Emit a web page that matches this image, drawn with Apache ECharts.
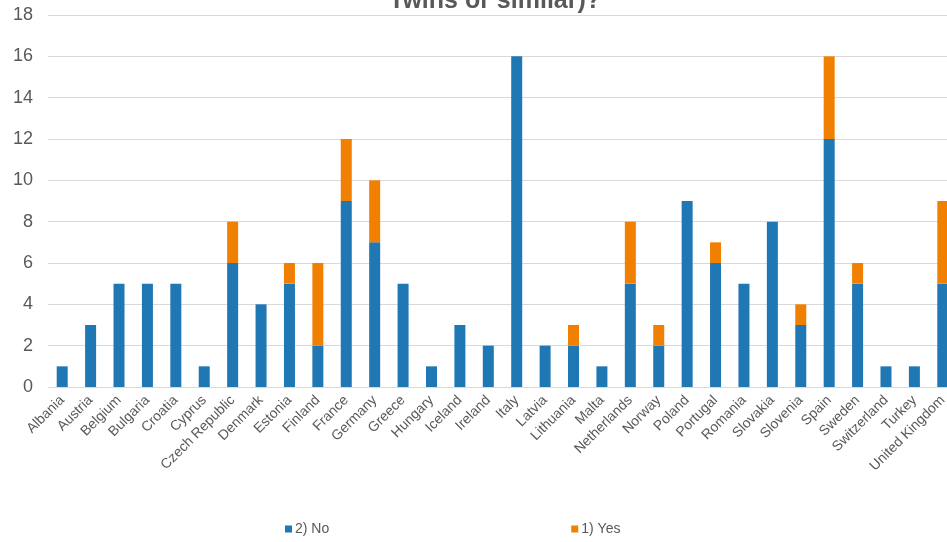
<!DOCTYPE html>
<html>
<head>
<meta charset="utf-8">
<script src="https://cdn.jsdelivr.net/npm/echarts@6/dist/echarts.min.js"></script>
<style>
  html, body { margin: 0; padding: 0; background: #fff; }
  #chart { width: 947px; height: 542px; }
</style>
</head>
<body>
<div id="chart"></div>
<script>
var countries = ['Albania','Austria','Belgium','Bulgaria','Croatia','Cyprus','Czech Republic','Denmark','Estonia','Finland','France','Germany','Greece','Hungary','Iceland','Ireland','Italy','Latvia','Lithuania','Malta','Netherlands','Norway','Poland','Portugal','Romania','Slovakia','Slovenia','Spain','Sweden','Switzerland','Turkey','United Kingdom'];
var noValues  = [1,3,5,5,5,1,6,4,5,2,9,7,5,1,3,2,16,2,2,1,5,2,9,6,5,8,3,12,5,1,1,5];
var yesValues = [0,0,0,0,0,0,2,0,1,4,3,3,0,0,0,0,0,0,1,0,3,1,0,1,0,0,1,4,1,0,0,4];
var yTicks = [0,2,4,6,8,10,12,14,16,18];

var textColor = '#595959';
var chart = echarts.init(document.getElementById('chart'));
chart.setOption({
    animation: false,
    title: {
        text: 'Twins or similar)?',
        left: 389,
        top: -11,
        padding: 0,
        textStyle: { color: textColor, fontSize: 25, fontWeight: 'bold', fontFamily: 'Liberation Sans' }
    },
    legend: {
        data: ['2) No', '1) Yes'],
        left: 285,
        top: 522,
        padding: 0,
        itemWidth: 7,
        itemHeight: 7,
        itemGap: 242,
        icon: 'rect',
        textStyle: { color: textColor, fontSize: 14, fontFamily: 'Liberation Sans', padding: [0, 0, 0, -2] }
    },
    grid: { left: 48, width: 909, top: 15, bottom: 155, containLabel: false, outerBoundsMode: 'none' },
    xAxis: {
        type: 'category',
        data: countries,
        axisLine: { lineStyle: { color: '#d9d9d9', width: 1 } },
        axisTick: { show: false },
        axisLabel: {
            rotate: 45,
            interval: 0,
            color: textColor,
            fontSize: 14,
            fontFamily: 'Liberation Sans',
            margin: 11
        }
    },
    yAxis: {
        type: 'value',
        min: yTicks[0],
        max: yTicks[yTicks.length - 1],
        interval: 2,
        axisLine: { show: false },
        axisTick: { show: false },
        splitLine: { lineStyle: { color: '#d9d9d9', width: 1 } },
        axisLabel: { color: textColor, fontSize: 18, fontFamily: 'Liberation Sans', margin: 15 }
    },
    series: [
        {
            name: '2) No',
            type: 'bar',
            stack: 'total',
            data: noValues,
            barWidth: 11,
            itemStyle: { color: '#1f77b4' }
        },
        {
            name: '1) Yes',
            type: 'bar',
            stack: 'total',
            data: yesValues,
            barWidth: 11,
            itemStyle: { color: '#f28000' }
        }
    ]
});
</script>
</body>
</html>
